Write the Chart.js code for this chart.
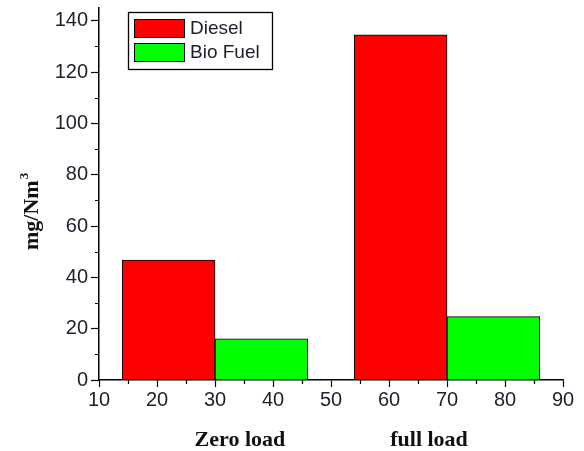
<!DOCTYPE html>
<html>
<head>
<meta charset="utf-8">
<script src="https://cdn.jsdelivr.net/npm/chart.js@4/dist/chart.umd.min.js"></script>
<style>
  html, body { margin: 0; padding: 0; background: #ffffff; }
  canvas { display: block; }
</style>
</head>
<body>
<canvas id="chart" width="584" height="451"></canvas>
<script>
// Emission data: two engine load conditions, two fuels (mg/Nm3)
const loadConditions = ['Zero load', 'full load'];
const loadPositions = [30, 70];          // x position of each load group
const fuelNames = ['Diesel', 'Bio Fuel'];
const dieselValues = [46.7, 134.5];
const bioFuelValues = [16.0, 24.7];
const xTickStep = 10;
const yTickStep = 20;

const fuelColors = ['#ff0000', '#00ff00'];
const tickFont = { family: 'Liberation Sans, Arial, sans-serif', size: 20 };
const tickColor = '#1e1e2c';

function toPoints(values) {
  return loadPositions.map((x, i) => ({ x: x, y: values[i] }));
}

// Small unlabeled ticks halfway between the labelled ones
const minorTicks = {
  id: 'minorTicks',
  afterDraw(chart) {
    const { ctx, chartArea, scales } = chart;
    ctx.save();
    ctx.strokeStyle = '#000';
    ctx.lineWidth = 1.2;
    ctx.beginPath();
    for (let v = scales.x.min + xTickStep / 2; v < scales.x.max; v += xTickStep) {
      const px = Math.round(scales.x.getPixelForValue(v)) + 0.5;
      ctx.moveTo(px, chartArea.bottom);
      ctx.lineTo(px, chartArea.bottom + 4);
    }
    for (let v = yTickStep / 2; v < scales.y.max; v += yTickStep) {
      const py = Math.round(scales.y.getPixelForValue(v)) + 0.5;
      ctx.moveTo(chartArea.left, py);
      ctx.lineTo(chartArea.left - 4, py);
    }
    ctx.stroke();
    ctx.restore();
  }
};

// Boxed legend inside the plot, plus the group captions and the y-axis title
const decorations = {
  id: 'decorations',
  afterDraw(chart, args, opts) {
    const { ctx, scales } = chart;
    ctx.save();

    // legend frame
    const lg = opts.legend;
    ctx.strokeStyle = '#000';
    ctx.lineWidth = 1.3;
    ctx.strokeRect(lg.left + 0.5, lg.top + 0.5, lg.width, lg.height);
    ctx.font = '19px "Liberation Sans", Arial, sans-serif';
    ctx.textBaseline = 'middle';
    ctx.textAlign = 'left';
    chart.data.datasets.forEach((ds, i) => {
      const y = lg.top + lg.firstRow + i * lg.rowGap;
      ctx.fillStyle = ds.backgroundColor;
      ctx.fillRect(lg.left + lg.swatchInset, y - lg.swatchH / 2, lg.swatchW, lg.swatchH);
      ctx.lineWidth = 1;
      ctx.strokeStyle = '#000';
      ctx.strokeRect(lg.left + lg.swatchInset + 0.5, Math.round(y - lg.swatchH / 2) + 0.5, lg.swatchW, lg.swatchH);
      ctx.fillStyle = '#1e1e2c';
      ctx.fillText(ds.label, lg.left + lg.swatchInset + lg.swatchW + 6, y + 1);
    });

    // group captions under the x axis
    ctx.font = 'bold 22px "Liberation Serif", "Times New Roman", serif';
    ctx.fillStyle = '#111';
    ctx.textAlign = 'center';
    ctx.textBaseline = 'alphabetic';
    loadConditions.forEach((label, i) => {
      ctx.fillText(label, scales.x.getPixelForValue(opts.captionAt[i]), opts.captionBaseline);
    });

    // y-axis title with superscript
    ctx.translate(opts.titleX, opts.titleY);
    ctx.rotate(-Math.PI / 2);
    ctx.textAlign = 'left';
    ctx.font = 'bold 22px "Liberation Serif", "Times New Roman", serif';
    ctx.fillText('mg/Nm', 0, 0);
    const w = ctx.measureText('mg/Nm').width;
    ctx.font = 'bold 13px "Liberation Serif", "Times New Roman", serif';
    ctx.fillText('3', w + 1, -10);
    ctx.restore();
  }
};

new Chart(document.getElementById('chart'), {
  type: 'bar',
  data: {
    datasets: [
      {
        label: fuelNames[0],
        data: toPoints(dieselValues),
        backgroundColor: fuelColors[0],
        borderColor: '#000',
        borderWidth: 1
      },
      {
        label: fuelNames[1],
        data: toPoints(bioFuelValues),
        backgroundColor: fuelColors[1],
        borderColor: '#000',
        borderWidth: 1
      }
    ]
  },
  options: {
    responsive: false,
    animation: false,
    devicePixelRatio: 1,
    barThickness: 'flex',
    categoryPercentage: 0.8,
    barPercentage: 1.0,
    layout: { padding: { top: 8, right: 21, bottom: 0, left: 0 } },
    plugins: {
      legend: { display: false },
      tooltip: { enabled: false },
      decorations: {
        legend: { left: 128, top: 12, width: 144, height: 57, firstRow: 28 - 12, rowGap: 24,
                  swatchInset: 6, swatchW: 50, swatchH: 18 },
        captionAt: [34.3, 66.9],
        captionBaseline: 446,
        titleX: 38,
        titleY: 250
      }
    },
    scales: {
      x: {
        type: 'linear',
        position: 'bottom',
        offset: false,
        min: 10,
        max: 90,
        ticks: { stepSize: xTickStep, font: tickFont, color: tickColor, padding: 1 },
        grid: { offset: false, drawOnChartArea: false, drawTicks: true, tickLength: 7, tickColor: '#000', tickWidth: 1.2 },
        border: { display: true, color: '#000', width: 1.5 },
        afterFit(scale) { scale.height = 71; scale.paddingLeft = 0; scale.paddingRight = 0; }
      },
      y: {
        min: 0,
        max: 145,
        ticks: { stepSize: yTickStep, includeBounds: false, font: tickFont, color: tickColor, padding: 3 },
        grid: { drawOnChartArea: false, drawTicks: true, tickLength: 8, tickColor: '#000', tickWidth: 1.2 },
        border: { display: true, color: '#000', width: 1.5 },
        afterFit(scale) { scale.width = 99; scale.paddingTop = 0; scale.paddingBottom = 0; }
      }
    }
  },
  plugins: [minorTicks, decorations]
});
</script>
</body>
</html>
